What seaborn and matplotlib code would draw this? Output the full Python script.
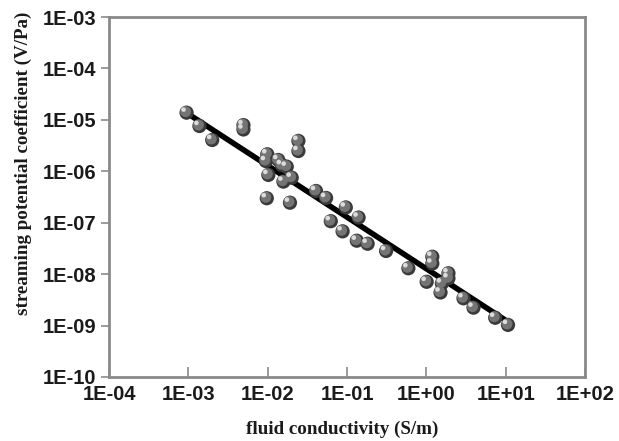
import numpy as np
import pandas as pd
import matplotlib
matplotlib.use("Agg")
import matplotlib.pyplot as plt
import seaborn as sns
from matplotlib.transforms import ScaledTranslation
from matplotlib.ticker import FixedLocator, FixedFormatter, NullLocator

# ---- data ----
conductivity = [9.5e-4, 1.38e-3, 2.0e-3, 4.95e-3, 4.95e-3, 2.44e-2, 2.44e-2,
                9.9e-3, 9.5e-3, 1.36e-2, 1.51e-2, 1.74e-2, 1.02e-2, 1.58e-2,
                2.01e-2, 9.75e-3, 1.91e-2, 4.07e-2, 5.45e-2, 9.66e-2, 0.140,
                6.25e-2, 8.8e-2, 0.133, 0.182, 0.311, 0.594, 1.19, 1.19, 1.01,
                1.90, 1.90, 1.57, 1.51, 2.94, 3.93, 7.38, 10.7]
coefficient = [1.38e-5, 7.6e-6, 4.06e-6, 7.9e-6, 6.5e-6, 3.9e-6, 2.48e-6,
               2.14e-6, 1.58e-6, 1.66e-6, 1.32e-6, 1.23e-6, 8.5e-7, 6.3e-7,
               7.5e-7, 2.99e-7, 2.45e-7, 4.14e-7, 3.03e-7, 1.98e-7, 1.26e-7,
               1.07e-7, 6.8e-8, 4.47e-8, 3.9e-8, 2.82e-8, 1.30e-8, 2.18e-8,
               1.61e-8, 7.1e-9, 1.04e-8, 8.3e-9, 6.6e-9, 4.4e-9, 3.39e-9,
               2.23e-9, 1.42e-9, 1.03e-9]
fit_x = [1.0e-3, 1.1e1]
fit_y = [1.3e-5, 1.15e-9]

x_ticks = [1e-4, 1e-3, 1e-2, 1e-1, 1e0, 1e1, 1e2]
x_tick_labels = ["1E-04", "1E-03", "1E-02", "1E-01", "1E+00", "1E+01", "1E+02"]
y_ticks = [1e-10, 1e-9, 1e-8, 1e-7, 1e-6, 1e-5, 1e-4, 1e-3]
y_tick_labels = ["1E-10", "1E-09", "1E-08", "1E-07", "1E-06", "1E-05", "1E-04", "1E-03"]

x_label = "fluid conductivity (S/m)"
y_label = "streaming potential coefficient (V/Pa)"

df = pd.DataFrame({"x": conductivity, "y": coefficient})
fit = pd.DataFrame({"x": fit_x, "y": fit_y})

sns.set_theme(style="white")
plt.rcParams["font.family"] = ["Liberation Sans", "DejaVu Sans"]

fig = plt.figure(figsize=(6.19, 4.41), dpi=100)
ax = fig.add_axes([109/619, 1-377/441, (585-109)/619, (377-17)/441])

ax.set_xscale("log")
ax.set_yscale("log")
ax.set_xlim(1e-4, 1e2)
ax.set_ylim(1e-10, 1e-3)

sns.lineplot(data=fit, x="x", y="y", ax=ax, color="black", linewidth=4, zorder=2)

# sphere-like markers: dark base, mid-tone body, specular highlight
sns.scatterplot(data=df, x="x", y="y", ax=ax, s=105, color="#3a3a3a",
                edgecolor="none", linewidth=0, zorder=3, legend=False)
t1 = ax.transData + ScaledTranslation(-0.7/72, 0.7/72, fig.dpi_scale_trans)
sns.scatterplot(data=df, x="x", y="y", ax=ax, s=62, color="#747474",
                edgecolor="none", linewidth=0, zorder=4, legend=False, transform=t1)
t2 = ax.transData + ScaledTranslation(-2.2/72, 2.2/72, fig.dpi_scale_trans)
sns.scatterplot(data=df, x="x", y="y", ax=ax, s=11, color="#dcdcdc",
                edgecolor="none", linewidth=0, zorder=5, legend=False, transform=t2)

ax.xaxis.set_major_locator(FixedLocator(x_ticks))
ax.xaxis.set_major_formatter(FixedFormatter(x_tick_labels))
ax.yaxis.set_major_locator(FixedLocator(y_ticks))
ax.yaxis.set_major_formatter(FixedFormatter(y_tick_labels))
ax.xaxis.set_minor_locator(NullLocator())
ax.yaxis.set_minor_locator(NullLocator())

for sp in ax.spines.values():
    sp.set_color("#8a8a8a")
    sp.set_linewidth(2)
    sp.set_visible(True)

ax.tick_params(axis="x", direction="in", length=7, width=1.2, color="#8a8a8a",
               pad=6, labelsize=14.5, bottom=True)
ax.tick_params(axis="y", direction="out", length=6, width=1.2, color="#8a8a8a",
               pad=3, labelsize=14.5, left=True)
for lab in ax.get_xticklabels() + ax.get_yticklabels():
    lab.set_fontweight("bold")
    lab.set_color("#1a1a1a")

ax.set_xlabel(x_label, fontfamily=["Liberation Serif", "DejaVu Serif"],
              fontweight="bold", fontsize=13.7, color="#1a1a1a")
ax.set_ylabel(y_label, fontfamily=["Liberation Serif", "DejaVu Serif"],
              fontweight="bold", fontsize=13.7, color="#1a1a1a")
ax.xaxis.set_label_coords(0.489, -0.12)
ax.xaxis.label.set_va("top")
ax.yaxis.set_label_coords(-0.162, 0.593)

ax.grid(False)
fig.savefig("out.png", dpi=100)
